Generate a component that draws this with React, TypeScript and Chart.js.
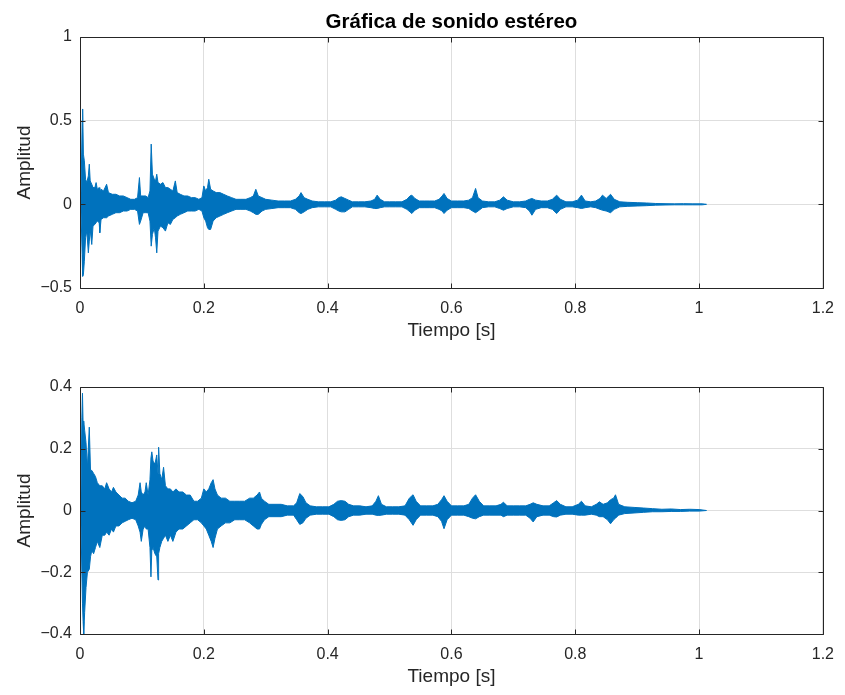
import React, { useEffect, useRef } from 'react';
import { Chart, registerables } from 'chart.js';

Chart.register(...registerables);

const TITLE = 'Gráfica de sonido estéreo';
const X_LABEL = 'Tiempo [s]';
const Y_LABEL = 'Amplitud';

const X_TICKS = [0, 0.2, 0.4, 0.6, 0.8, 1, 1.2];
const X_TICK_LABELS = ['0', '0.2', '0.4', '0.6', '0.8', '1', '1.2'];
const Y1_TICKS = [-0.5, 0, 0.5, 1];
const Y1_TICK_LABELS = ['\u22120.5', '0', '0.5', '1'];
const Y2_TICKS = [-0.4, -0.2, 0, 0.2, 0.4];
const Y2_TICK_LABELS = ['\u22120.4', '\u22120.2', '0', '0.2', '0.4'];

// Channel 1 (top): sample times and upper / lower envelope
const L_TIME = [
  0.0015, 0.0035, 0.0043, 0.0055, 0.007, 0.009, 0.011, 0.0135, 0.015, 0.0165,
  0.019, 0.021, 0.024, 0.026, 0.028, 0.031, 0.032, 0.034, 0.038, 0.043,
  0.046, 0.052, 0.058, 0.064, 0.070, 0.076, 0.082, 0.088, 0.093, 0.096,
  0.098, 0.102, 0.106, 0.110, 0.113, 0.115, 0.117, 0.120, 0.122, 0.124,
  0.126, 0.130, 0.134, 0.138, 0.142, 0.146, 0.150, 0.154, 0.157, 0.162,
  0.168, 0.174, 0.180, 0.186, 0.192, 0.197, 0.200, 0.203, 0.206, 0.208,
  0.211, 0.215, 0.220, 0.226, 0.232, 0.238, 0.245, 0.252, 0.260, 0.268,
  0.275, 0.280, 0.284, 0.288, 0.294, 0.300, 0.310, 0.320, 0.330, 0.340,
  0.348, 0.354, 0.357, 0.362, 0.368, 0.375, 0.385, 0.395, 0.405, 0.413,
  0.418, 0.422, 0.428, 0.434, 0.440, 0.450, 0.460, 0.470, 0.476, 0.480,
  0.485, 0.492, 0.500, 0.510, 0.520, 0.528, 0.533, 0.536, 0.541, 0.548,
  0.556, 0.565, 0.573, 0.580, 0.585, 0.588, 0.593, 0.600, 0.610, 0.620,
  0.628, 0.634, 0.639, 0.643, 0.650, 0.660, 0.670, 0.678, 0.684, 0.690,
  0.700, 0.710, 0.720, 0.726, 0.730, 0.736, 0.745, 0.755, 0.763, 0.770,
  0.776, 0.785, 0.795, 0.804, 0.810, 0.816, 0.825, 0.833, 0.840, 0.844,
  0.850, 0.857, 0.863, 0.872, 0.885, 0.900, 0.915, 0.930, 0.945, 0.960,
  0.975, 0.990, 1.005, 1.012,
];
const L_UPPER = [
  0.03, 0.50, 0.57, 0.30, 0.26, 0.15, 0.13, 0.17, 0.24, 0.14,
  0.12, 0.10, 0.10, 0.13, 0.09, 0.10, 0.08, 0.09, 0.08, 0.12,
  0.07, 0.06, 0.06, 0.05, 0.05, 0.04, 0.03, 0.03, 0.04, 0.16,
  0.05, 0.05, 0.05, 0.04, 0.08, 0.36, 0.18, 0.15, 0.14, 0.18,
  0.13, 0.12, 0.13, 0.10, 0.10, 0.09, 0.08, 0.14, 0.07, 0.06,
  0.05, 0.05, 0.04, 0.04, 0.03, 0.04, 0.11, 0.08, 0.10, 0.15,
  0.09, 0.08, 0.07, 0.07, 0.06, 0.05, 0.04, 0.03, 0.03, 0.03,
  0.04, 0.05, 0.09, 0.05, 0.04, 0.03, 0.025, 0.02, 0.02, 0.02,
  0.03, 0.05, 0.07, 0.04, 0.03, 0.02, 0.015, 0.015, 0.015, 0.025,
  0.04, 0.045, 0.035, 0.025, 0.015, 0.015, 0.015, 0.02, 0.03, 0.055,
  0.03, 0.015, 0.015, 0.015, 0.015, 0.03, 0.05, 0.055, 0.035, 0.02,
  0.02, 0.02, 0.02, 0.03, 0.05, 0.065, 0.035, 0.02, 0.02, 0.02,
  0.025, 0.04, 0.095, 0.04, 0.02, 0.015, 0.015, 0.025, 0.045, 0.025,
  0.015, 0.015, 0.02, 0.03, 0.035, 0.025, 0.02, 0.02, 0.03, 0.055,
  0.03, 0.015, 0.015, 0.025, 0.055, 0.02, 0.015, 0.02, 0.035, 0.055,
  0.035, 0.06, 0.03, 0.015, 0.012, 0.01, 0.008, 0.005, 0.004, 0.003,
  0.004, 0.003, 0.003, 0,
];
const L_LOWER = [
  -0.03, -0.30, -0.43, -0.42, -0.34, -0.20, -0.16, -0.29, -0.22, -0.15,
  -0.24, -0.13, -0.12, -0.11, -0.10, -0.11, -0.17, -0.09, -0.08, -0.08,
  -0.07, -0.06, -0.05, -0.05, -0.04, -0.04, -0.03, -0.03, -0.04, -0.12,
  -0.10, -0.05, -0.05, -0.05, -0.10, -0.25, -0.18, -0.14, -0.20, -0.29,
  -0.16, -0.13, -0.14, -0.16, -0.11, -0.12, -0.09, -0.08, -0.07, -0.06,
  -0.05, -0.04, -0.04, -0.04, -0.03, -0.04, -0.08, -0.10, -0.14, -0.15,
  -0.15, -0.10, -0.08, -0.07, -0.06, -0.05, -0.04, -0.03, -0.03, -0.03,
  -0.04, -0.05, -0.06, -0.06, -0.04, -0.03, -0.025, -0.02, -0.02, -0.02,
  -0.03, -0.05, -0.055, -0.045, -0.03, -0.02, -0.015, -0.015, -0.015, -0.03,
  -0.04, -0.045, -0.045, -0.03, -0.015, -0.015, -0.015, -0.02, -0.025, -0.025,
  -0.02, -0.015, -0.015, -0.015, -0.015, -0.03, -0.045, -0.055, -0.035, -0.02,
  -0.02, -0.02, -0.02, -0.03, -0.04, -0.055, -0.035, -0.02, -0.02, -0.02,
  -0.025, -0.04, -0.05, -0.04, -0.02, -0.015, -0.015, -0.025, -0.035, -0.025,
  -0.015, -0.015, -0.02, -0.04, -0.065, -0.03, -0.02, -0.02, -0.03, -0.055,
  -0.03, -0.015, -0.015, -0.02, -0.025, -0.02, -0.015, -0.02, -0.03, -0.035,
  -0.04, -0.05, -0.03, -0.015, -0.012, -0.01, -0.008, -0.005, -0.004, -0.003,
  -0.003, -0.003, -0.003, 0,
];

// Channel 2 (bottom)
const R_TIME = [
  0.0015, 0.003, 0.004, 0.005, 0.006, 0.0075, 0.0097, 0.012, 0.015, 0.017,
  0.019, 0.022, 0.025, 0.028, 0.032, 0.036, 0.040, 0.043, 0.047, 0.051,
  0.054, 0.058, 0.063, 0.068, 0.073, 0.078, 0.084, 0.090, 0.094, 0.097,
  0.099, 0.102, 0.105, 0.107, 0.110, 0.113, 0.1146, 0.116, 0.118, 0.121,
  0.124, 0.126, 0.127, 0.129, 0.132, 0.135, 0.138, 0.142, 0.146, 0.150,
  0.155, 0.160, 0.166, 0.172, 0.178, 0.184, 0.190, 0.196, 0.200, 0.204,
  0.208, 0.212, 0.215, 0.218, 0.222, 0.228, 0.235, 0.242, 0.250, 0.258,
  0.266, 0.274, 0.280, 0.286, 0.290, 0.293, 0.298, 0.305, 0.315, 0.325,
  0.335, 0.345, 0.350, 0.355, 0.360, 0.365, 0.372, 0.382, 0.392, 0.402,
  0.410, 0.416, 0.422, 0.428, 0.434, 0.442, 0.452, 0.462, 0.472, 0.478,
  0.482, 0.487, 0.495, 0.505, 0.515, 0.525, 0.532, 0.538, 0.543, 0.550,
  0.560, 0.570, 0.578, 0.584, 0.588, 0.593, 0.600, 0.610, 0.620, 0.628,
  0.634, 0.639, 0.645, 0.652, 0.662, 0.672, 0.680, 0.684, 0.690, 0.700,
  0.710, 0.720, 0.727, 0.732, 0.738, 0.748, 0.758, 0.765, 0.770, 0.776,
  0.785, 0.795, 0.805, 0.810, 0.816, 0.826, 0.834, 0.839, 0.845, 0.852,
  0.857, 0.862, 0.865, 0.870, 0.880, 0.895, 0.910, 0.925, 0.940, 0.955,
  0.970, 0.985, 1.000, 1.012,
];
const R_UPPER = [
  0.03, 0.30, 0.38, 0.28, 0.29, 0.26, 0.22, 0.14, 0.27, 0.13,
  0.13, 0.12, 0.11, 0.09, 0.08, 0.08, 0.07, 0.09, 0.07, 0.06,
  0.075, 0.06, 0.05, 0.04, 0.04, 0.03, 0.025, 0.03, 0.05, 0.09,
  0.06, 0.05, 0.06, 0.09, 0.05, 0.10, 0.17, 0.19, 0.16, 0.15,
  0.18, 0.12, 0.205, 0.12, 0.10, 0.14, 0.08, 0.07, 0.07, 0.06,
  0.07, 0.06, 0.06, 0.05, 0.05, 0.03, 0.03, 0.04, 0.07, 0.06,
  0.07, 0.09, 0.10, 0.07, 0.05, 0.04, 0.04, 0.03, 0.03, 0.03,
  0.03, 0.04, 0.04, 0.05, 0.06, 0.04, 0.03, 0.02, 0.02, 0.02,
  0.015, 0.015, 0.025, 0.055, 0.045, 0.025, 0.015, 0.012, 0.012, 0.012,
  0.02, 0.03, 0.032, 0.03, 0.02, 0.015, 0.015, 0.012, 0.015, 0.03,
  0.048, 0.02, 0.012, 0.012, 0.012, 0.015, 0.04, 0.051, 0.03, 0.015,
  0.015, 0.015, 0.02, 0.035, 0.048, 0.03, 0.015, 0.015, 0.015, 0.02,
  0.04, 0.051, 0.03, 0.015, 0.015, 0.015, 0.02, 0.027, 0.015, 0.015,
  0.015, 0.015, 0.02, 0.025, 0.02, 0.015, 0.015, 0.025, 0.032, 0.02,
  0.012, 0.012, 0.02, 0.03, 0.015, 0.012, 0.02, 0.028, 0.02, 0.025,
  0.035, 0.04, 0.051, 0.02, 0.012, 0.01, 0.008, 0.006, 0.004, 0.005,
  0.003, 0.004, 0.003, 0,
];
const R_LOWER = [
  -0.03, -0.20, -0.30, -0.36, -0.40, -0.33, -0.25, -0.20, -0.19, -0.15,
  -0.13, -0.14, -0.12, -0.10, -0.12, -0.08, -0.08, -0.07, -0.08, -0.06,
  -0.07, -0.05, -0.05, -0.04, -0.035, -0.03, -0.025, -0.03, -0.05, -0.07,
  -0.10, -0.06, -0.05, -0.06, -0.06, -0.12, -0.215, -0.13, -0.12, -0.14,
  -0.15, -0.225, -0.14, -0.12, -0.10, -0.09, -0.08, -0.10, -0.08, -0.10,
  -0.07, -0.06, -0.06, -0.05, -0.04, -0.03, -0.03, -0.04, -0.05, -0.06,
  -0.08, -0.10, -0.12, -0.09, -0.06, -0.05, -0.04, -0.04, -0.03, -0.03,
  -0.03, -0.04, -0.05, -0.06, -0.06, -0.045, -0.03, -0.02, -0.02, -0.02,
  -0.015, -0.015, -0.03, -0.045, -0.04, -0.025, -0.015, -0.012, -0.012, -0.012,
  -0.02, -0.03, -0.032, -0.03, -0.02, -0.015, -0.015, -0.012, -0.012, -0.015,
  -0.016, -0.015, -0.012, -0.012, -0.012, -0.015, -0.03, -0.048, -0.03, -0.015,
  -0.015, -0.015, -0.02, -0.035, -0.059, -0.03, -0.015, -0.015, -0.015, -0.02,
  -0.025, -0.027, -0.02, -0.015, -0.015, -0.015, -0.015, -0.02, -0.015, -0.015,
  -0.015, -0.015, -0.025, -0.037, -0.02, -0.015, -0.015, -0.02, -0.021, -0.015,
  -0.012, -0.012, -0.015, -0.015, -0.015, -0.012, -0.015, -0.02, -0.02, -0.03,
  -0.043, -0.03, -0.025, -0.015, -0.01, -0.008, -0.006, -0.004, -0.004, -0.003,
  -0.003, -0.002, -0.002, 0,
];

const FONT = '"Liberation Sans", Arial, Helvetica, sans-serif';
const BLUE = '#0072BD';
const AXIS = '#262626';
const GRID = '#dedede';
const TICK_FONT_SIZE = 16;
const LABEL_FONT_SIZE = 19;
const TITLE_FONT_SIZE = 20.5;

type PlotOpts = {
  time: number[];
  upper: number[];
  lower: number[];
  yTicks: number[];
  yTickLabels: string[];
  width: number;
  height: number;
  areaTop: number;
  areaBottom: number;
  areaLeft: number;
  areaRight: number;
  xTitlePad: number;
  title?: string;
  titleBaseline?: number;
};

function toPoints(time: number[], vals: number[]) {
  const n = Math.min(time.length, vals.length);
  const out: { x: number; y: number }[] = [];
  for (let i = 0; i < n; i++) out.push({ x: time[i], y: vals[i] });
  return out;
}

function build(canvas: HTMLCanvasElement, o: PlotOpts) {
  const boxPlugin = {
    id: 'matlabBox',
    afterDraw(chart: any) {
      const { ctx, chartArea: a, scales } = chart;
      ctx.save();
      ctx.strokeStyle = AXIS;
      ctx.lineWidth = 1;
      const L = Math.round(a.left) + 0.5;
      const R = Math.round(a.right) + 0.5;
      const T = Math.round(a.top) + 0.5;
      const B = Math.round(a.bottom) + 0.5;
      ctx.beginPath();
      ctx.rect(L, T, R - L, B - T);
      const tl = 5;
      for (const v of X_TICKS) {
        const x = Math.round(scales.x.getPixelForValue(v)) + 0.5;
        ctx.moveTo(x, B);
        ctx.lineTo(x, B - tl);
        ctx.moveTo(x, T);
        ctx.lineTo(x, T + tl);
      }
      for (const v of o.yTicks) {
        const y = Math.round(scales.y.getPixelForValue(v)) + 0.5;
        ctx.moveTo(L, y);
        ctx.lineTo(L + tl, y);
        ctx.moveTo(R, y);
        ctx.lineTo(R - tl, y);
      }
      ctx.stroke();
      if (o.title) {
        ctx.fillStyle = '#000';
        ctx.font = `bold ${TITLE_FONT_SIZE}px ${FONT}`;
        ctx.textAlign = 'center';
        ctx.textBaseline = 'alphabetic';
        ctx.fillText(o.title, (a.left + a.right) / 2, o.titleBaseline || 28);
      }
      ctx.restore();
    },
  };

  return new Chart(canvas, {
    type: 'line',
    data: {
      datasets: [
        {
          data: toPoints(o.time, o.upper),
          borderColor: BLUE,
          backgroundColor: BLUE,
          borderWidth: 1,
          pointRadius: 0,
          tension: 0,
          fill: '+1',
        },
        {
          data: toPoints(o.time, o.lower),
          borderColor: BLUE,
          backgroundColor: BLUE,
          borderWidth: 1,
          pointRadius: 0,
          tension: 0,
          fill: false,
        },
      ],
    },
    options: {
      responsive: false,
      animation: false,
      events: [],
      layout: {
        padding: {
          top: o.areaTop,
          left: 0,
          right: o.width - o.areaRight,
          bottom: 0,
        },
      },
      plugins: {
        legend: { display: false },
        title: { display: false },
        tooltip: { enabled: false },
      },
      scales: {
        x: {
          type: 'linear',
          min: 0,
          max: 1.2,
          afterBuildTicks: (s: any) => {
            s.ticks = X_TICKS.map((v) => ({ value: v }));
          },
          afterFit: (s: any) => {
            s.height = o.height - o.areaBottom;
          },
          ticks: {
            autoSkip: false,
            maxRotation: 0,
            padding: 11,
            color: AXIS,
            font: { family: FONT, size: TICK_FONT_SIZE },
            callback: (v: any) => {
              const i = X_TICKS.indexOf(Number(v));
              return i >= 0 ? X_TICK_LABELS[i] : '';
            },
          },
          grid: { color: GRID, drawTicks: false, lineWidth: 1 },
          border: { display: false },
          title: {
            display: true,
            text: X_LABEL,
            color: AXIS,
            font: { family: FONT, size: LABEL_FONT_SIZE },
            padding: { top: 0, bottom: o.xTitlePad },
          },
        },
        y: {
          type: 'linear',
          min: o.yTicks[0],
          max: o.yTicks[o.yTicks.length - 1],
          afterBuildTicks: (s: any) => {
            s.ticks = o.yTicks.map((v) => ({ value: v }));
          },
          afterFit: (s: any) => {
            s.width = o.areaLeft;
          },
          ticks: {
            padding: 8,
            color: AXIS,
            font: { family: FONT, size: TICK_FONT_SIZE },
            callback: (v: any) => {
              const i = o.yTicks.indexOf(Number(v));
              return i >= 0 ? o.yTickLabels[i] : '';
            },
          },
          grid: { color: GRID, drawTicks: false, lineWidth: 1 },
          border: { display: false },
          title: {
            display: true,
            text: Y_LABEL,
            color: AXIS,
            font: { family: FONT, size: LABEL_FONT_SIZE },
            padding: { top: 13, bottom: 0 },
          },
        },
      },
    },
    plugins: [boxPlugin],
  } as any);
}

export default function App() {
  const ref1 = useRef<HTMLCanvasElement>(null);
  const ref2 = useRef<HTMLCanvasElement>(null);

  useEffect(() => {
    const c1 = build(ref1.current!, {
      time: L_TIME,
      upper: L_UPPER,
      lower: L_LOWER,
      yTicks: Y1_TICKS,
      yTickLabels: Y1_TICK_LABELS,
      width: 845,
      height: 345,
      areaTop: 37,
      areaBottom: 288,
      areaLeft: 80,
      areaRight: 828,
      xTitlePad: 3,
      title: TITLE,
      titleBaseline: 28,
    });
    const c2 = build(ref2.current!, {
      time: R_TIME,
      upper: R_UPPER,
      lower: R_LOWER,
      yTicks: Y2_TICKS,
      yTickLabels: Y2_TICK_LABELS,
      width: 845,
      height: 350,
      areaTop: 42,
      areaBottom: 289,
      areaLeft: 80,
      areaRight: 828,
      xTitlePad: 7,
    });
    return () => {
      c1.destroy();
      c2.destroy();
    };
  }, []);

  return (
    <div style={{ position: 'absolute', left: 0, top: 0, width: 845, height: 695, background: '#fff' }}>
      <canvas
        ref={ref1}
        width={845}
        height={345}
        style={{ position: 'absolute', left: 0, top: 0, width: 845, height: 345 }}
      />
      <canvas
        ref={ref2}
        width={845}
        height={350}
        style={{ position: 'absolute', left: 0, top: 345, width: 845, height: 350 }}
      />
    </div>
  );
}
